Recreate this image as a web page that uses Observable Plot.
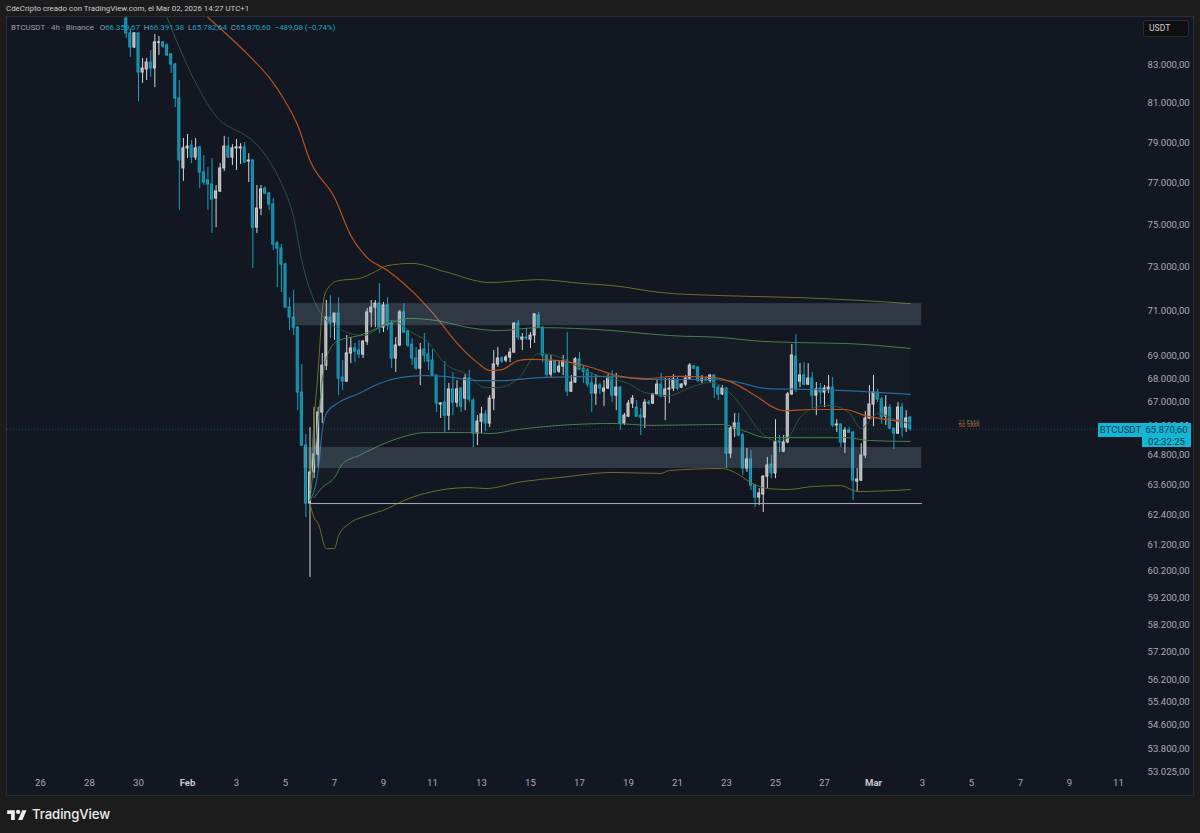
<!DOCTYPE html>
<html><head><meta charset="utf-8">
<script src="https://cdn.jsdelivr.net/npm/d3@7"></script>
<script src="https://cdn.jsdelivr.net/npm/@observablehq/plot@0.6"></script>
<style>
html,body{margin:0;padding:0;width:1200px;height:833px;overflow:hidden;background:#1c1c1c;font-family:Roboto,sans-serif}
#top{height:17px;line-height:18px;padding-left:6px;color:#c9ccd4;font-size:7.9px;white-space:nowrap}
#wrap{position:absolute;left:7px;top:17px;width:1186px;height:778px;box-shadow:0 0 0 1px #2a2e39}
#wrap svg{display:block}
#foot{position:absolute;left:7px;top:806px;display:flex;align-items:center;gap:5px;color:#ededed;font:500 13.2px Inter,sans-serif;letter-spacing:-.1px;line-height:16px}
#legend{position:absolute;left:11px;top:22px;font-size:7.9px;line-height:11px;color:#9aa0ac;white-space:nowrap}
#legend b{font-weight:400;color:#1aa3bf}
.chip{position:absolute;background:#12b6d6;color:#0b3a48;font-size:9.6px;text-align:center;white-space:nowrap}
#usdt{position:absolute;left:1143px;top:20px;width:46px;height:17px;box-sizing:border-box;background:#0f0f0f;border:1px solid #2a2e39;border-radius:3px;color:#c9ccd4;font-size:8.6px;line-height:15px;padding-left:5px}
</style></head><body>
<div id="top">CdeCripto creado con TradingView.com, el Mar 02, 2026 14:27 UTC+1</div>
<div id="wrap"></div>
<div id="legend">BTCUSDT · 4h · Binance &nbsp;&nbsp;O<b>66.359,67</b> &nbsp;H<b>66.391,38</b> &nbsp;L<b>65.782,64</b> &nbsp;C<b>65.870,60</b> &nbsp;<b>−489,08 (−0,74%)</b></div>
<div id="usdt">USDT</div>
<div class="chip" style="left:1098px;top:423px;width:45px;height:14px;line-height:14px">BTCUSDT</div>
<div class="chip" style="left:1142px;top:423px;width:49px;height:24px;line-height:11.5px;padding-top:1px;box-sizing:border-box">65.870,60<br>02:32:25</div>
<div id="foot"><svg width="20" height="12" viewBox="0 0 36 22"><path fill="#ededed" d="M14 22H7V11H0V4h14v18zM28 22h-8l7.5-18h8L28 22z"/><circle fill="#ededed" cx="20" cy="7" r="4"/></svg><span>TradingView</span></div>
<script>
const firstBar = -15;
const opens = [
85450,84650,83900,84650,82580,82740,83100,82790,84150,84170,
84000,83530,83000,81230,77710,78700,78840,78250,78750,77510,
77120,76920,76240,76580,77710,78790,78250,78700,78700,78750,
78050,78100,74850,75760,76720,76480,75950,74100,73860,73120,
71150,70700,70250,67420,65190,62840,64090,64820,66570,68580,
70700,70480,70880,68060,67890,69110,69330,69240,69060,69630,
70930,71150,71330,70250,71240,70430,68890,69460,70930,70080,
69500,68890,68450,69280,69060,68800,68150,66910,66990,66440,
67550,66990,67590,67160,68020,67080,65690,66190,66490,66110,
67160,68630,68890,68800,68930,69150,70430,69720,69810,69720,
69900,70790,70250,69020,68190,68760,68320,68540,68800,67460,
67850,68850,68450,68370,67810,67380,67720,67460,67590,68060,
67290,67630,66110,66400,66950,66780,66440,66360,66990,66950,
67340,67760,67250,67550,67590,67980,67630,67760,68020,68540,
68500,67930,67980,67930,68150,67630,67340,67590,64860,65900,
66110,65610,64250,64620,63560,63080,63200,63920,64410,64050,
65360,64940,65320,67340,68970,67890,68150,67760,68020,67290,
67590,67420,67550,67630,66030,66070,65320,65815,65730,63720,
63760,64780,66320,66910,67420,67120,66400,66780,65900,65690,
66780,65940,66359.67];
const closes = [
84650,83900,84650,82580,82790,83100,82790,84170,84170,83950,
83480,83000,81230,78100,78700,78790,78250,78700,77510,77020,
76920,76190,76580,77710,78790,78250,78700,78750,78750,78000,
78100,74850,75760,76680,76480,75950,74050,73860,73120,71150,
70700,70250,67420,65190,62840,64090,64820,66570,68580,70700,
70480,70880,68020,67890,69110,69330,69190,69060,69630,70930,
71150,71330,70250,71240,70340,68890,69460,70930,70030,69460,
68890,68450,69240,69020,68760,68150,66950,66950,66440,67550,
66990,67550,66820,68020,67120,65690,66190,66490,66110,67160,
68630,68890,68760,68930,69150,70430,69810,69810,69770,69900,
70840,70250,69020,68190,68760,68280,68540,68760,67460,67850,
68850,68410,68320,67760,67380,67720,67590,67590,68060,67290,
67630,66110,66440,66950,67160,66400,66360,66990,66950,67340,
67760,67250,67550,67590,67980,67590,67760,68020,68580,68450,
67930,67980,67930,68150,67630,67340,67590,64860,65900,66110,
65610,64250,64620,63560,63080,63240,63920,64370,64050,65320,
65320,65320,67340,69020,67550,68150,67760,68020,67290,67550,
67420,67590,67630,66030,66070,65320,65815,65730,63760,63800,
64780,66320,66910,67420,67120,66360,66780,65900,65690,66780,
65940,66320,65870.60];
const highs = [
85890,84900,84700,84650,83320,83320,83740,84590,84490,84220,
84110,83580,83050,82160,79200,79400,79100,79200,78790,78350,
77750,78200,76870,77950,79300,79250,78890,79150,78940,78990,
78440,78150,76870,76870,76820,76530,76240,74190,74050,73170,
71600,71920,70300,68630,65650,65940,66790,66790,69110,71470,
71700,70880,71600,68800,69900,69810,69550,69680,69680,71110,
71470,71470,72240,71380,71600,70570,69810,71020,71330,70120,
69770,69370,69550,69990,69550,69280,68150,66990,68760,67810,
68280,67930,67630,68190,68370,67160,66440,66790,66650,67290,
69240,69370,68970,69020,69330,70480,70570,69990,70210,70030,
70880,70930,70300,69020,69020,68800,68800,69020,70030,68150,
68930,69150,68580,68450,68280,68190,67810,67930,68190,68370,
68240,67670,66530,67080,67290,67080,66740,67120,67080,67380,
67980,68240,68020,68020,68190,68060,67810,68150,68670,68580,
68500,68150,68110,68190,68190,67720,67720,67630,65980,66530,
66530,65690,65070,64990,63560,63440,63960,64700,64780,66270,
65610,65610,67420,69500,69940,68670,68710,68670,68280,67850,
67810,67720,68150,68060,66270,66070,65940,65940,65770,64250,
65270,66610,67720,68150,67550,67200,67290,66910,65900,66990,
66950,66650,66391.38];
const lows = [
84380,83370,83850,81070,82010,82160,82320,81800,83480,83850,
83420,82530,80770,75660,77070,78200,77950,78100,76720,76870,
75660,74570,74850,76530,77560,78200,77850,77610,77900,77950,
77020,72930,74570,75420,76430,75660,73770,72060,71830,71110,
70120,69900,66650,65150,62280,59960,63840,64290,66110,68370,
69770,69680,67290,67500,67850,68670,68710,68890,68890,69460,
70250,70250,69990,70030,70120,68450,68280,69410,69990,69370,
68580,68370,67720,68710,68370,68110,66570,66320,65730,65815,
66440,66780,66570,66650,66990,65110,65190,65690,65770,65940,
66650,68500,68670,68710,68710,69110,69680,69240,69680,69330,
69550,70210,68710,68020,68060,68240,68240,68150,67250,67420,
67810,68370,67810,67630,66570,66870,67340,66820,67550,66990,
66650,65815,66030,66360,66740,66360,65610,65900,66870,66910,
67290,67200,66230,66950,67460,67500,67590,67670,67980,68410,
67850,67810,67890,67850,67160,67080,67290,64250,64660,65520,
65560,63960,64090,63360,62680,62760,62480,63440,63840,63840,
64900,64900,65270,67290,67420,67630,67720,67720,66740,66440,
66910,66780,67380,65940,65730,65110,64860,65690,62960,63320,
63720,64660,66270,65980,66990,66070,66030,65860,65030,65650,
65520,65730,65782.64];

const smaBars = [5,15,20,23.5,27,30,36,40,44,49,58,62,65,71,74,77,81,84,91,99,105,112,120,129,134,139,146,153,161,166,175];
const smaVals = [85510,83480,82320,81230,79850,78100,76290,74470,73440,72840,71330,70480,69770,68710,68370,68410,68800,68850,68800,68500,68150,68020,68110,68060,67800,67290,66650,66700,66700,66440,66190];
const emaBars = [-5,-2,3,8,11,15,20,23,26,28,31,34,38,43,47,50,55,59,63,68,73,76,81,86,90,95,99,108,112,118,123,128,133,137,140,144,147,150,153,157,162,165,169,174,177];
const emaVals = [85510,83900,81640,80100,79700,79250,78100,76970,75330,73300,71470,70570,70120,69900,70250,70570,70030,69590,68670,68240,67630,67630,68020,69110,69020,68580,68240,67800,67420,67290,67630,67850,67380,66530,65815,65400,65520,66360,66740,66870,66570,65900,66530,66230,66110];
const vwapBars = [30,32,33,34,37,42,47,52,58,63,71,77,86,104,113,129,134,142,153,161,177];
const vwapVals = [62960,64170,65815,66530,66990,67380,67810,68060,68150,68110,67930,67930,68060,68110,67980,67980,67890,67590,67550,67500,67340];
const up1Bars = [30,32,33,35,37,42,50,54,61,69,76,86,104,112,118,131,138,149,161,177];
const up1Vals = [62960,66230,67930,69330,69680,69900,70480,70660,70570,70250,70120,70250,70120,69990,69900,69810,69680,69590,69550,69330];
const lo1Bars = [31,33,36,38,42,47,54,58,70,74,81,91,104,114,131,136,142,153,161,167,177];
const lo1Vals = [63080,63480,63880,64450,64780,65190,65610,65730,65730,65690,65860,66030,66110,66030,66070,65815,65520,65520,65520,65400,65360];
const up2Bars = [30,31,32,33,34,37,42,46,49,55,63,74,86,97,104,116,131,150,165,177];
const up2Vals = [63360,66230,68370,71020,71920,72380,72470,72790,73070,73170,72790,72290,72420,72240,72150,71830,71690,71600,71470,71330];
const lo2Bars = [30,31,32,34,36,37,40,44,49,53,58,69,73,82,91,104,116,118,131,134,138,142,147,153,160,164,177];
const lo2Vals = [62840,62280,62050,61070,61070,61580,62090,62360,62640,62960,63240,63480,63440,63720,63880,64090,64050,64170,64250,64090,63680,63440,63400,63520,63560,63320,63400];

const zoneTop = {bar1:26, bar2:179.8, hi:71330, lo:70340};
const zoneLow = {bar1:28.4, bar2:179.8, hi:65110, lo:64250};
const supportLevel = 62840, supportFrom = 30, supportTo = 180;
const lastPrice = 65870.60;

const priceTicks = [83000,81000,79000,77000,75000,73000,71000,69000,68000,67000,66000,64800,63600,62400,61200,60200,59200,58200,57200,56200,55400,54600,53800,53025];
const dayTicks = ["2026-01-26","2026-01-28","2026-01-30","2026-02-03","2026-02-05","2026-02-07","2026-02-09","2026-02-11","2026-02-13","2026-02-15","2026-02-17","2026-02-19","2026-02-21","2026-02-23","2026-02-25","2026-02-27","2026-03-03","2026-03-05","2026-03-07","2026-03-09","2026-03-11"];
const monthTicks = [["2026-02-01","Feb"],["2026-03-01","Mar"]];

const t0 = Date.UTC(2026,1,1), H = 3600e3, D = 24*H;
const tb = b => new Date(t0 + b*4*H);
const candles = opens.map((o,i)=>({t:t0+(firstBar+i)*4*H,o,c:closes[i],h:highs[i],l:lows[i]}));
const ups = candles.filter(d=>d.c>=d.o), downs = candles.filter(d=>d.c<d.o);
const series = (bars,vals)=>bars.map((b,i)=>({t:tb(b),v:vals[i]}));
const bandPoly = [...series(up1Bars,up1Vals), ...series(lo1Bars,lo1Vals).reverse()];
const fmt = d3.formatLocale({decimal:",",thousands:".",grouping:[3],currency:["",""]}).format(",.2f");
const utc = s => new Date(s+"T00:00:00Z");

const WHITE="#d4d4d8", WHITEF="#a4a4aa", TEAL="#17a2c0", TEALF="#127f98";
const clip = {clip:true};
const line=(bars,vals,stroke,w=1)=>Plot.line(series(bars,vals),{x:"t",y:"v",stroke,strokeWidth:w,curve:"monotone-x",...clip});
const zone = z=>Plot.rect([z],{x1:d=>tb(d.bar1),x2:d=>tb(d.bar2),y1:"lo",y2:"hi",fill:"#9cc4d2",fillOpacity:.2,...clip});

const chart = Plot.plot({
  width:1186,height:778,marginLeft:0,marginRight:50,marginTop:0,marginBottom:24,
  style:{background:"#131722",fontFamily:"Roboto,sans-serif",fontSize:"9.6px",color:"#a8acb6",overflow:"hidden"},
  x:{type:"utc",domain:[new Date(t0-7.347*D),new Date(t0+39.02*D)]},
  y:{type:"log",domain:[53025,85510]},
  marks:[
    Plot.line(bandPoly,{x:"t",y:"v",fill:"#3f8f5a",fillOpacity:.05,stroke:"none",...clip}),
    Plot.ruleY([lastPrice],{stroke:"#0f7f96",strokeWidth:1,strokeDasharray:"1,2",strokeOpacity:.5}),
    Plot.ruleX(ups,{x:"t",y1:"l",y2:"h",stroke:WHITE,strokeWidth:1,...clip}),
    Plot.ruleX(downs,{x:"t",y1:"l",y2:"h",stroke:TEAL,strokeWidth:1,...clip}),
    Plot.rect(ups,{x1:d=>d.t-H,x2:d=>d.t+H,y1:"o",y2:"c",fill:WHITEF,stroke:WHITE,strokeWidth:1,...clip}),
    Plot.rect(downs,{x1:d=>d.t-H,x2:d=>d.t+H,y1:"o",y2:"c",fill:TEALF,stroke:TEAL,strokeWidth:1,...clip}),
    line(emaBars,emaVals,"#2b5540"),
    line(up2Bars,up2Vals,"#6f6d26"),
    line(lo2Bars,lo2Vals,"#6f6d26"),
    line(up1Bars,up1Vals,"#457f4a"),
    line(lo1Bars,lo1Vals,"#457f4a"),
    line(vwapBars,vwapVals,"#266a9e",1.2),
    line(smaBars,smaVals,"#b9521f",1.2),
    zone(zoneTop),zone(zoneLow),
    Plot.ruleY([supportLevel],{x1:tb(supportFrom),x2:tb(supportTo),stroke:"#a9acb4",strokeWidth:1}),
    Plot.text(["21 EMA"],{x:()=>new Date(t0+31.9*D),y:()=>66170,text:d=>d,fill:"#3f7f52",fontSize:6.2}),
    Plot.text(["50 SMA"],{x:()=>new Date(t0+31.9*D),y:()=>66060,text:d=>d,fill:"#c4562a",fontSize:6.2}),
    Plot.axisY({anchor:"right",ticks:priceTicks,tickFormat:fmt,tickSize:0,tickPadding:4,label:null,fill:"#a8acb6"}),
    Plot.axisX({anchor:"bottom",ticks:dayTicks.map(utc),tickFormat:d=>String(d.getUTCDate()),tickSize:0,tickPadding:8,label:null,fill:"#a8acb6"}),
    Plot.axisX({anchor:"bottom",ticks:monthTicks.map(m=>utc(m[0])),tickFormat:d=>d.getUTCMonth()==1?"Feb":"Mar",tickSize:0,tickPadding:8,label:null,fill:"#c6c9d0",fontWeight:"bold"})
  ]
});
document.getElementById("wrap").appendChild(chart);
</script>
</body></html>
